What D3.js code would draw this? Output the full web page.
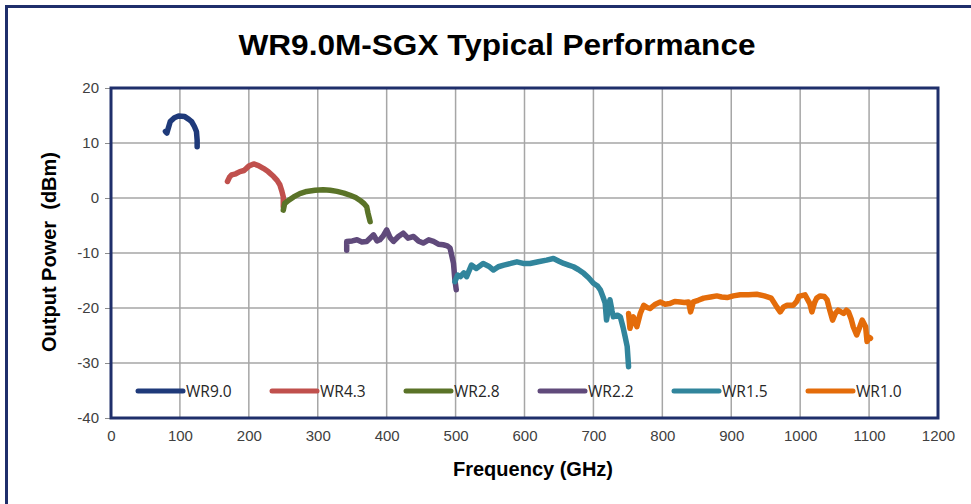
<!DOCTYPE html>
<html>
<head>
<meta charset="utf-8">
<script src="https://cdn.jsdelivr.net/npm/d3@7"></script>
<style>
  body { margin: 0; background: #fff; }
  svg { display: block; }
</style>
</head>
<body>
<div id="chart"></div>
<script>
// frequency (GHz) / output power (dBm) per waveguide band
const wr90 = [[79,12.1],[81,11.8],[86,13.9],[92,14.6],[98,14.9],[107,14.8],[113,14.3],[117,13.9],[121,13.0],[124,12.1],[125,10.5],[125,9.3]];
const wr43 = [[169,3.0],[172,3.8],[175,4.2],[181,4.4],[187,4.8],[193,5.0],[200,5.8],[207,6.2],[214,5.9],[221,5.4],[228,4.8],[236,3.9],[241,3.2],[245,2.4],[248,1.2],[250,0.2],[250,-1.6]];
const wr28 = [[250,-2.2],[252,-1.0],[258,-0.4],[265,0.2],[274,0.8],[284,1.2],[296,1.4],[308,1.5],[318,1.4],[328,1.2],[338,0.9],[347,0.5],[355,0.1],[361,-0.4],[367,-1.0],[371,-1.6],[373,-2.8],[376,-4.3]];
const wr22 = [[342,-9.5],[342,-7.9],[350,-7.8],[357,-7.6],[364,-8.0],[371,-7.9],[381,-6.7],[386,-7.8],[390,-7.6],[395,-6.9],[400,-5.8],[405,-7.2],[410,-7.9],[417,-7.0],[424,-6.4],[431,-7.3],[439,-7.0],[446,-7.8],[453,-8.2],[461,-7.6],[468,-7.9],[475,-8.4],[482,-8.5],[488,-8.7],[492,-9.1],[497,-11.9],[499,-14.9],[501,-16.7]];
const wr15 = [[499,-15.2],[503,-14.0],[507,-14.3],[512,-13.6],[516,-14.3],[523,-12.2],[530,-12.8],[540,-11.9],[548,-12.4],[555,-13.1],[562,-12.5],[570,-12.2],[580,-11.9],[589,-11.6],[598,-11.9],[608,-11.9],[620,-11.6],[632,-11.3],[642,-11.0],[650,-11.5],[657,-11.9],[664,-12.2],[671,-12.5],[678,-13.0],[686,-13.7],[693,-14.5],[700,-15.5],[706,-16.0],[710,-16.7],[714,-18.0],[717,-19.1],[719,-22.2],[724,-18.5],[727,-20.5],[729,-21.6],[735,-21.3],[739,-21.6],[743,-23.5],[746,-25.2],[749,-27.0],[751,-30.7]];
const wr10 = [[751,-21.0],[753,-23.7],[758,-21.6],[763,-23.4],[768,-21.0],[773,-19.5],[778,-19.9],[782,-20.1],[790,-19.3],[797,-18.9],[804,-19.3],[811,-19.2],[818,-18.8],[826,-18.9],[832,-19.0],[838,-18.9],[841,-20.7],[845,-18.9],[852,-18.6],[860,-18.2],[870,-18.0],[879,-17.8],[886,-18.0],[894,-18.1],[903,-17.8],[913,-17.6],[925,-17.6],[937,-17.5],[948,-17.8],[958,-18.2],[966,-19.8],[971,-20.7],[976,-19.8],[981,-19.5],[990,-19.5],[995,-18.8],[998,-17.9],[1007,-17.6],[1014,-19.2],[1017,-20.7],[1021,-19.0],[1024,-18.2],[1029,-17.8],[1035,-17.9],[1039,-18.5],[1043,-20.4],[1047,-22.2],[1051,-21.0],[1055,-20.4],[1063,-21.0],[1067,-20.4],[1070,-20.7],[1074,-22.0],[1077,-23.4],[1082,-24.9],[1086,-23.6],[1090,-22.2],[1095,-23.4],[1097,-26.1],[1100,-25.3],[1102,-25.5]];

const seriesNames = ['WR9.0', 'WR4.3', 'WR2.8', 'WR2.2', 'WR1.5', 'WR1.0'];
const seriesData = [wr90, wr43, wr28, wr22, wr15, wr10];
const seriesColors = ['#1f3a7a', '#c0504d', '#5a7328', '#604a7b', '#31859c', '#e46c0a'];
const xTicks = [0,100,200,300,400,500,600,700,800,900,1000,1100,1200];
const yTicks = [-40,-30,-20,-10,0,10,20];

const width = 971, height = 504;
const margin = { top: 88, right: 33, bottom: 86, left: 111 };

const svg = d3.select('#chart').append('svg').attr('width', width).attr('height', height);

// outer chart frame (runs off the right and bottom edges)
svg.append('rect').attr('x', 6.5).attr('y', 6.5).attr('width', 1000).attr('height', 600)
  .attr('fill', 'none').attr('stroke', '#1f2f6b').attr('stroke-width', 3);

svg.append('text').attr('x', 497).attr('y', 55).attr('text-anchor', 'middle')
  .attr('textLength', 517).attr('lengthAdjust', 'spacingAndGlyphs')
  .style('font-family', 'Liberation Sans, Arial, sans-serif').style('font-weight', 'bold').style('font-size', '30px')
  .attr('fill', '#000').text('WR9.0M-SGX Typical Performance');

const x = d3.scaleLinear().domain([0, 1200]).range([margin.left, width - margin.right]);
const y = d3.scaleLinear().domain([-40, 20]).range([height - margin.bottom, margin.top]);

// gridlines
svg.append('g').selectAll('line').data(xTicks.slice(1, -1)).enter().append('line')
  .attr('x1', d => x(d)).attr('x2', d => x(d)).attr('y1', y(20)).attr('y2', y(-40))
  .attr('stroke', '#a6a6a6').attr('stroke-width', 1.5);
svg.append('g').selectAll('line').data(yTicks.slice(1, -1)).enter().append('line')
  .attr('x1', x(0)).attr('x2', x(1200)).attr('y1', d => y(d)).attr('y2', d => y(d))
  .attr('stroke', '#a6a6a6').attr('stroke-width', 1.5);

// axes
const xAxis = d3.axisBottom(x).tickValues(xTicks).tickFormat(d => String(d)).tickSize(0).tickPadding(12);
const yAxis = d3.axisLeft(y).tickValues(yTicks).tickFormat(d => String(d)).tickSize(6).tickPadding(6);
const gx = svg.append('g').attr('transform', `translate(0,${y(-40)})`).call(xAxis);
const gy = svg.append('g').attr('transform', `translate(${x(0)},0)`).call(yAxis);
[gx, gy].forEach(g => {
  g.select('.domain').remove();
  g.selectAll('line').attr('stroke', '#8c8c8c');
  g.selectAll('text').attr('fill', '#404040')
    .style('font-family', 'Liberation Sans, Arial, sans-serif').style('font-size', '15px');
});

// series
const line = d3.line().x(d => x(d[0])).y(d => y(d[1]));
seriesData.forEach((s, i) => {
  svg.append('path').datum(s).attr('d', line).attr('fill', 'none')
    .attr('stroke', seriesColors[i]).attr('stroke-width', 5.5)
    .attr('stroke-linejoin', 'round').attr('stroke-linecap', 'round');
});

// legend
const legend = svg.append('g').attr('transform', `translate(138,391)`);
seriesNames.forEach((n, i) => {
  const g = legend.append('g').attr('transform', `translate(${i * 134},0)`);
  g.append('line').attr('x1', 0).attr('x2', 45).attr('y1', 0).attr('y2', 0)
    .attr('stroke', seriesColors[i]).attr('stroke-width', 5).attr('stroke-linecap', 'round');
  g.append('text').attr('x', 48).attr('y', 6).attr('fill', '#262626')
    .style('font-family', 'Open Sans, Liberation Sans, sans-serif').style('font-size', '15.5px').text(n);
});

// plot frame
svg.append('rect').attr('x', x(0)).attr('y', y(20)).attr('width', x(1200) - x(0)).attr('height', y(-40) - y(20))
  .attr('fill', 'none').attr('stroke', '#1f2f6b').attr('stroke-width', 3);

// axis titles
svg.append('text').attr('x', 533).attr('y', 476).attr('text-anchor', 'middle')
  .style('font-family', 'Liberation Sans, Arial, sans-serif').style('font-weight', 'bold').style('font-size', '20px')
  .text('Frequency (GHz)');
svg.append('text').attr('transform', 'translate(56,252) rotate(-90)').attr('text-anchor', 'middle')
  .style('font-family', 'Liberation Sans, Arial, sans-serif').style('font-weight', 'bold').style('font-size', '20px')
  .style('white-space', 'pre').text('Output Power  (dBm)');
</script>
</body>
</html>
